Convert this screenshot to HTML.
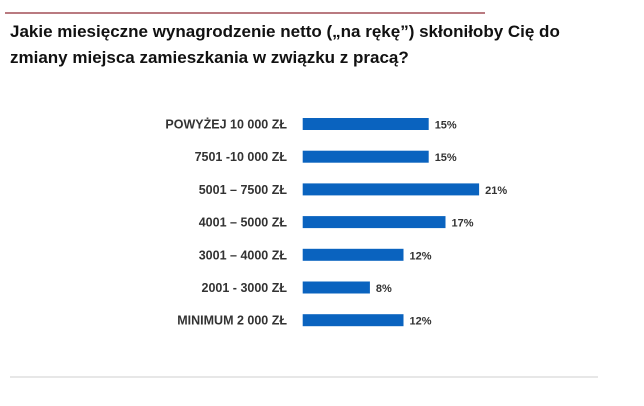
<!DOCTYPE html>
<html><head><meta charset="utf-8"><style>
body{margin:0;width:644px;height:401px;background:#fff;overflow:hidden;font-family:"Liberation Sans",sans-serif}
</style></head><body>
<svg width="644" height="401">
<line x1="5" y1="13" x2="485" y2="13" stroke="#b97a80" stroke-width="2"/>
<line x1="10" y1="377" x2="598" y2="377" stroke="#cfcfcf" stroke-width="1"/>
<text x="10" y="37" font-size="17" font-weight="bold" fill="#111">Jakie miesięczne  wynagrodzenie  netto („na rękę”) skłoniłoby Cię do</text>
<text x="10" y="63" font-size="17" font-weight="bold" fill="#111">zmiany miejsca zamieszkania  w związku z pracą?</text>
<g id="bars"></g>
</svg>
<script>
const categories=["POWYŻEJ 10 000 ZŁ","7501 -10 000 ZŁ","5001 – 7500 ZŁ","4001 – 5000 ZŁ","3001 – 4000 ZŁ","2001 - 3000 ZŁ","MINIMUM 2 000 ZŁ"];
const values=[15,15,21,17,12,8,12];
const valueLabels=["15%","15%","21%","17%","12%","8%","12%"];
const x0=302.7,pxPer=8.4,yTop=124,step=32.7,bh=12;
const xs=v=>x0+v*pxPer, ys=i=>yTop+i*step;
const g=document.getElementById('bars');const NS="http://www.w3.org/2000/svg";
categories.forEach((c,i)=>{
 const r=document.createElementNS(NS,'rect');
 r.setAttribute('x',x0);r.setAttribute('y',ys(i)-bh/2);r.setAttribute('width',xs(values[i])-x0);r.setAttribute('height',bh);r.setAttribute('fill','#0a63bf');
 
 
 g.appendChild(r);
 const t=document.createElementNS(NS,'text');
 t.setAttribute('x',287);t.setAttribute('y',ys(i)+4.5);t.setAttribute('text-anchor','end');t.setAttribute('font-size','12.5');t.setAttribute('font-weight','bold');t.setAttribute('fill','#333');t.textContent=c;
 
 
 g.appendChild(t);
 const v=document.createElementNS(NS,'text');
 v.setAttribute('x',xs(values[i])+6);v.setAttribute('y',ys(i)+4.5);v.setAttribute('font-size','11');v.setAttribute('font-weight','bold');v.setAttribute('fill','#333');v.textContent=valueLabels[i];
 
 
 g.appendChild(v);
});
</script>
</body></html>
